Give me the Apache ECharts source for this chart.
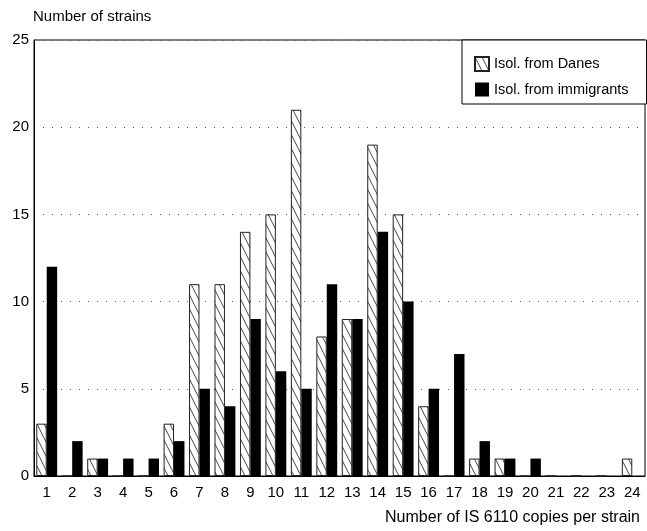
<!DOCTYPE html>
<html>
<head>
<meta charset="utf-8">
<script src="https://cdn.jsdelivr.net/npm/echarts@6/dist/echarts.min.js"></script>
<style>
html,body{margin:0;padding:0;background:#fff;}
#chart{width:647px;height:531px;}
</style>
</head>
<body>
<div id="chart"></div>
<script>
const categories = ['1','2','3','4','5','6','7','8','9','10','11','12','13','14','15','16','17','18','19','20','21','22','23','24'];
const danes = [3,0,1,0,0,3,11,11,14,15,21,8,9,19,15,4,0,1,1,0,0,0,0,1];
const immigrants = [12,2,1,1,1,2,5,4,9,6,5,11,9,14,10,5,7,2,1,1,0,0,0,0];
const yTicks = [0,5,10,15,20,25];

function makeHatch(){
  const c = document.createElement('canvas');
  const w = 7, h = 14;
  c.width = w; c.height = h;
  const ctx = c.getContext('2d');
  ctx.fillStyle = '#fff';
  ctx.fillRect(0,0,w,h);
  ctx.strokeStyle = '#333';
  ctx.lineWidth = 0.9;
  for (let k=-1;k<=1;k++){
    ctx.beginPath();
    ctx.moveTo(k*w - 1, -2);
    ctx.lineTo(k*w + w + 1, h + 2);
    ctx.stroke();
  }
  return c;
}
const hatch = makeHatch();

const chart = echarts.init(document.getElementById('chart'), null, {renderer:'canvas'});
const font = 'Liberation Sans, Arial, Helvetica, sans-serif';
chart.setOption({
  animation:false,
  backgroundColor:'#fff',
  grid:{left:34,right:2,top:40,bottom:55,show:true,borderColor:'#000',borderWidth:1,backgroundColor:'transparent'},
  legend:{
    orient:'vertical',left:462,top:40,
    padding:[16,18,7,12],
    itemWidth:14,itemHeight:14,itemGap:10,
    backgroundColor:'#fff',borderColor:'#000',borderWidth:1,
    textStyle:{fontFamily:font,fontSize:14.5,color:'#000'},
    data:[{name:'Isol. from Danes',icon:'rect'},{name:'Isol. from immigrants',icon:'rect'}]
  },
  xAxis:{
    type:'category',data:categories,
    axisLine:{show:true,lineStyle:{color:'#000',width:1}},
    axisTick:{show:false},
    axisLabel:{fontFamily:font,fontSize:15,color:'#000',margin:9,interval:0},
    splitLine:{show:false}
  },
  yAxis:{
    type:'value',min:0,max:25,interval:5,
    axisLine:{show:true,lineStyle:{color:'#000',width:1}},
    axisTick:{show:false},
    axisLabel:{fontFamily:font,fontSize:15,color:'#000',margin:5,customValues: yTicks},
    splitLine:{show:true,lineStyle:{color:'#555',type:[1,8],width:1}}
  },
  series:[
    {name:'Isol. from Danes',type:'bar',data:danes,barGap:'0%',barCategoryGap:'18%',
     itemStyle:{color:{image:hatch,repeat:'repeat'},borderColor:'#222',borderWidth:1}},
    {name:'Isol. from immigrants',type:'bar',data:immigrants,barGap:'0%',barCategoryGap:'18%',
     itemStyle:{color:'#000',borderColor:'#000',borderWidth:0}}
  ],
  graphic:[
    {type:'text',left:33,top:9,style:{text:'Number of strains',fontFamily:font,fontSize:15,fill:'#000'}},
    {type:'text',right:7,top:510,style:{text:'Number of IS 6110 copies per strain',fontFamily:font,fontSize:16,fill:'#000'}}
  ]
});
</script>
</body>
</html>
